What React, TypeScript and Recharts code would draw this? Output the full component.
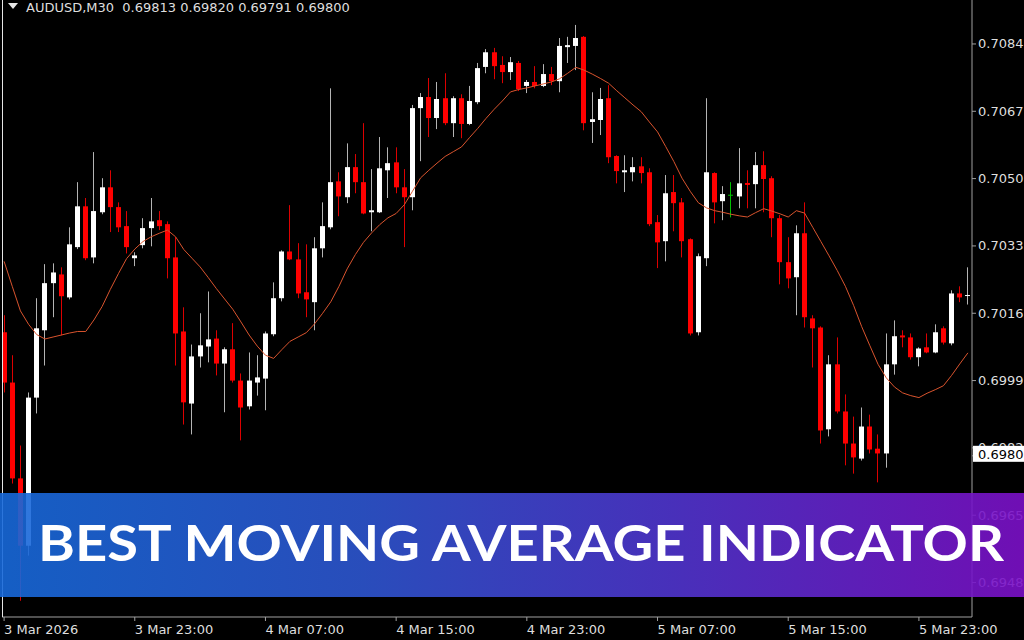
import React from 'react'
import { ComposedChart, Bar, Line, XAxis, YAxis } from 'recharts'

// AUDUSD M30 bars (oldest first)
const OPEN = [
  0.70112, 0.69985, 0.69743, 0.69573, 0.69947, 0.70117, 0.70236, 0.70258, 0.70200, 0.70327,
  0.70430, 0.70301, 0.70415, 0.70478, 0.70428, 0.70380, 0.70299, 0.70332, 0.70375, 0.70395,
  0.70385, 0.70301, 0.70114, 0.69932, 0.70051, 0.70076, 0.70096, 0.70033, 0.70069, 0.69990,
  0.69925, 0.69985, 0.69995, 0.70107, 0.70198, 0.70316, 0.70296, 0.70213, 0.70188, 0.70324,
  0.70377, 0.70493, 0.70453, 0.70529, 0.70491, 0.70415, 0.70415, 0.70521, 0.70541, 0.70478,
  0.70453, 0.70678, 0.70706, 0.70653, 0.70703, 0.70640, 0.70703, 0.70638, 0.70693, 0.70782,
  0.70819, 0.70787, 0.70769, 0.70792, 0.70734, 0.70744, 0.70734, 0.70764, 0.70746, 0.70832,
  0.70835, 0.70858, 0.70643, 0.70648, 0.70703, 0.70557, 0.70516, 0.70516, 0.70531, 0.70516,
  0.70390, 0.70342, 0.70466, 0.70440, 0.70347, 0.70112, 0.70299, 0.70514, 0.70443, 0.70458,
  0.70455, 0.70489, 0.70486, 0.70534, 0.70501, 0.70400, 0.70289, 0.70251, 0.70362, 0.70147,
  0.70124, 0.69867, 0.70031, 0.69912, 0.69831, 0.69793, 0.69874, 0.69818, 0.69806, 0.70031,
  0.70104, 0.70099, 0.70049, 0.70074, 0.70061, 0.70122, 0.70084, 0.70210, 0.70204,
]

const HIGH = [
  0.70155, 0.70054, 0.69826, 0.69960, 0.70198, 0.70284, 0.70286, 0.70276, 0.70377, 0.70491,
  0.70451, 0.70567, 0.70501, 0.70521, 0.70440, 0.70418, 0.70314, 0.70400, 0.70451, 0.70418,
  0.70392, 0.70352, 0.70175, 0.70081, 0.70160, 0.70215, 0.70117, 0.70074, 0.70135, 0.70008,
  0.70061, 0.70054, 0.70114, 0.70238, 0.70319, 0.70433, 0.70337, 0.70334, 0.70352, 0.70440,
  0.70728, 0.70516, 0.70589, 0.70562, 0.70640, 0.70524, 0.70605, 0.70579, 0.70579, 0.70524,
  0.70686, 0.70716, 0.70754, 0.70744, 0.70766, 0.70708, 0.70713, 0.70734, 0.70792, 0.70827,
  0.70830, 0.70809, 0.70807, 0.70797, 0.70749, 0.70784, 0.70789, 0.70782, 0.70855, 0.70858,
  0.70888, 0.70860, 0.70718, 0.70729, 0.70736, 0.70559, 0.70559, 0.70554, 0.70554, 0.70526,
  0.70408, 0.70509, 0.70509, 0.70451, 0.70349, 0.70311, 0.70703, 0.70516, 0.70481, 0.70491,
  0.70577, 0.70521, 0.70567, 0.70569, 0.70506, 0.70408, 0.70352, 0.70382, 0.70440, 0.70155,
  0.70127, 0.70054, 0.70099, 0.69955, 0.69899, 0.69922, 0.69904, 0.69854, 0.70109, 0.70142,
  0.70117, 0.70109, 0.70074, 0.70109, 0.70132, 0.70127, 0.70218, 0.70228, 0.70276,
]

const LOW = [
  0.69960, 0.69730, 0.69434, 0.69548, 0.69907, 0.70028, 0.70150, 0.70104, 0.70195, 0.70322,
  0.70294, 0.70286, 0.70410, 0.70365, 0.70365, 0.70311, 0.70279, 0.70324, 0.70329, 0.70370,
  0.70248, 0.70028, 0.69879, 0.69854, 0.70023, 0.70036, 0.70003, 0.69910, 0.69985, 0.69839,
  0.69917, 0.69952, 0.69915, 0.70102, 0.70190, 0.70294, 0.70198, 0.70150, 0.70117, 0.70301,
  0.70372, 0.70405, 0.70438, 0.70463, 0.70410, 0.70367, 0.70413, 0.70451, 0.70463, 0.70327,
  0.70420, 0.70544, 0.70605, 0.70625, 0.70635, 0.70605, 0.70602, 0.70635, 0.70688, 0.70766,
  0.70751, 0.70741, 0.70749, 0.70721, 0.70716, 0.70728, 0.70731, 0.70736, 0.70718, 0.70792,
  0.70774, 0.70622, 0.70590, 0.70610, 0.70539, 0.70488, 0.70466, 0.70493, 0.70488, 0.70380,
  0.70274, 0.70291, 0.70367, 0.70301, 0.70104, 0.70104, 0.70279, 0.70387, 0.70395, 0.70402,
  0.70425, 0.70425, 0.70425, 0.70415, 0.70352, 0.70233, 0.70223, 0.70155, 0.70124, 0.70023,
  0.69831, 0.69849, 0.69907, 0.69776, 0.69755, 0.69788, 0.69806, 0.69733, 0.69770, 0.70005,
  0.70074, 0.70043, 0.70026, 0.70059, 0.70059, 0.70081, 0.70079, 0.70188, 0.70182,
]

const CLOSE = [
  0.69985, 0.69743, 0.69573, 0.69947, 0.70122, 0.70236, 0.70263, 0.70203, 0.70334, 0.70430,
  0.70299, 0.70418, 0.70478, 0.70428, 0.70377, 0.70327, 0.70306, 0.70375, 0.70392, 0.70380,
  0.70299, 0.70109, 0.69935, 0.70051, 0.70079, 0.70094, 0.70033, 0.70069, 0.69990, 0.69922,
  0.69990, 0.69998, 0.70109, 0.70198, 0.70316, 0.70296, 0.70210, 0.70195, 0.70324, 0.70380,
  0.70491, 0.70455, 0.70529, 0.70491, 0.70412, 0.70420, 0.70526, 0.70539, 0.70478, 0.70453,
  0.70678, 0.70706, 0.70653, 0.70701, 0.70640, 0.70703, 0.70638, 0.70696, 0.70779, 0.70819,
  0.70784, 0.70769, 0.70794, 0.70726, 0.70744, 0.70734, 0.70764, 0.70746, 0.70835, 0.70837,
  0.70855, 0.70640, 0.70650, 0.70701, 0.70554, 0.70519, 0.70521, 0.70529, 0.70514, 0.70385,
  0.70339, 0.70463, 0.70438, 0.70342, 0.70109, 0.70304, 0.70516, 0.70440, 0.70461, 0.70458,
  0.70488, 0.70484, 0.70534, 0.70499, 0.70400, 0.70289, 0.70248, 0.70362, 0.70150, 0.70122,
  0.69864, 0.70031, 0.69912, 0.69831, 0.69796, 0.69874, 0.69816, 0.69806, 0.70031, 0.70102,
  0.70099, 0.70049, 0.70071, 0.70061, 0.70112, 0.70086, 0.70210, 0.70200, 0.70206,
]

// moving average line as drawn on the chart
const MA = [
  0.70291, 0.70228, 0.70166, 0.70132, 0.70106, 0.70095, 0.70100, 0.70105, 0.70110, 0.70114,
  0.70114, 0.70143, 0.70177, 0.70220, 0.70260, 0.70298, 0.70322, 0.70341, 0.70353, 0.70362,
  0.70370, 0.70353, 0.70321, 0.70299, 0.70277, 0.70250, 0.70222, 0.70196, 0.70170, 0.70138,
  0.70105, 0.70077, 0.70054, 0.70046, 0.70068, 0.70089, 0.70100, 0.70111, 0.70133, 0.70160,
  0.70189, 0.70228, 0.70272, 0.70308, 0.70339, 0.70363, 0.70384, 0.70401, 0.70412, 0.70434,
  0.70468, 0.70502, 0.70521, 0.70539, 0.70556, 0.70568, 0.70580, 0.70604, 0.70627, 0.70652,
  0.70675, 0.70696, 0.70719, 0.70725, 0.70729, 0.70734, 0.70739, 0.70744, 0.70752, 0.70766,
  0.70781, 0.70774, 0.70764, 0.70753, 0.70741, 0.70722, 0.70704, 0.70686, 0.70669, 0.70643,
  0.70618, 0.70581, 0.70543, 0.70501, 0.70468, 0.70439, 0.70426, 0.70419, 0.70415, 0.70410,
  0.70406, 0.70403, 0.70414, 0.70424, 0.70418, 0.70411, 0.70403, 0.70419, 0.70413, 0.70377,
  0.70341, 0.70305, 0.70268, 0.70228, 0.70180, 0.70126, 0.70078, 0.70031, 0.69997, 0.69974,
  0.69959, 0.69952, 0.69947, 0.69958, 0.69967, 0.69977, 0.70003, 0.70032, 0.70060,
]

const TIME_LABELS = [
  '3 Mar 2026', '3 Mar 23:00', '4 Mar 07:00', '4 Mar 15:00',
  '4 Mar 23:00', '5 Mar 07:00', '5 Mar 15:00', '5 Mar 23:00',
]
const BARS_PER_LABEL = 16

const PRICE_TICKS = [0.6948, 0.6965, 0.6982, 0.6999, 0.7016, 0.7033, 0.705, 0.7067, 0.7084]
const PRICE_MIN = 0.69393
const PRICE_MAX = 0.70951
const LAST_PRICE = 0.698

const HEADER = 'AUDUSD,M30\u00a0\u00a00.69813 0.69820 0.69791 0.69800'
const BANNER = 'BEST MOVING AVERAGE INDICATOR'

const W = 1024
const H = 640
const AXIS = '#a0a0a0'
const LABEL = '#dedede'

const data = OPEN.map((open, i) => ({
  i,
  open,
  high: HIGH[i],
  low: LOW[i],
  close: CLOSE[i],
  ma: MA[i],
}))

const timeTicks = TIME_LABELS.map((_, k) => k * BARS_PER_LABEL)

// one candle: the bar covers low..high, body placed inside it
const Candle = (props: any) => {
  const { x, y, width, height, payload } = props
  if (!payload) return null
  const { open, close, high, low } = payload
  const k = height / (high - low)
  const cx = Math.floor(x + width / 2)
  const top = y + (high - Math.max(open, close)) * k
  const bottom = y + (high - Math.min(open, close)) * k
  const up = close > open
  const doji = close === open
  const body = doji ? '#00c000' : up ? '#ffffff' : '#ff0000'
  const wick = doji ? '#00c000' : up ? '#b4b4b4' : '#dd0000'
  return (
    <g>
      <line x1={cx + 0.5} x2={cx + 0.5} y1={y} y2={y + height} stroke={wick} strokeWidth={1} />
      {doji ? (
        <line x1={cx - 2} x2={cx + 3} y1={top} y2={top} stroke={body} strokeWidth={1} />
      ) : (
        <rect x={cx - 2} y={top} width={5} height={Math.max(1, bottom - top)} fill={body} />
      )}
    </g>
  )
}

const PriceTick = (props: any) => {
  const { x, y, payload } = props
  const v = payload.value
  if (v === LAST_PRICE) {
    return (
      <g>
        <rect x={x - 5} y={y - 10} width={56} height={16} fill="#ffffff" />
        <text x={x} y={y + 3} fill="#000" fontSize={13} textAnchor="start">
          {v.toFixed(4)}
        </text>
      </g>
    )
  }
  return (
    <text x={x} y={y + 4.5} fill={LABEL} fontSize={13} textAnchor="start">
      {v.toFixed(4)}
    </text>
  )
}

const TimeTick = (props: any) => {
  const { x, y, payload } = props
  const label = TIME_LABELS[Math.round(payload.value / BARS_PER_LABEL)]
  return (
    <text x={x} y={y + 11} fill={LABEL} fontSize={13} textAnchor="start">
      {label}
    </text>
  )
}

export default function App() {
  return (
    <div
      style={{
        position: 'absolute',
        left: 0,
        top: 0,
        width: W,
        height: H,
        background: '#000',
        fontFamily: '"DejaVu Sans", sans-serif',
        overflow: 'hidden',
      }}
    >
      <ComposedChart
        width={W}
        height={H}
        data={data}
        margin={{ top: 0, right: 0, bottom: 0, left: 0 }}
        barCategoryGap={0}
        barGap={0}
      >
        <XAxis
          dataKey="i"
          ticks={timeTicks}
          interval={0}
          height={23}
          axisLine={{ stroke: AXIS }}
          tickLine={{ stroke: AXIS }}
          tickSize={4}
          tick={<TimeTick />}
        />
        <YAxis
          orientation="right"
          width={52}
          domain={[PRICE_MIN, PRICE_MAX]}
          allowDataOverflow
          ticks={[...PRICE_TICKS, LAST_PRICE]}
          interval={0}
          axisLine={{ stroke: AXIS }}
          tickLine={{ stroke: AXIS }}
          tickSize={4}
          tick={<PriceTick />}
        />
        <Bar
          dataKey={(d: any) => [d.low, d.high]}
          shape={<Candle />}
          isAnimationActive={false}
        />
        <Line
          dataKey="ma"
          type="linear"
          stroke="#d9542e"
          strokeWidth={1}
          dot={false}
          activeDot={false}
          isAnimationActive={false}
        />
      </ComposedChart>

      <svg
        width={W}
        height={H}
        style={{ position: 'absolute', left: 0, top: 0, pointerEvents: 'none' }}
      >
        <defs>
          <linearGradient id="banner" x1="0" y1="0" x2="1" y2="0">
            <stop offset="0%" stopColor="#1769da" />
            <stop offset="35%" stopColor="#2d56d0" />
            <stop offset="65%" stopColor="#4f36cf" />
            <stop offset="100%" stopColor="#7c10c8" />
          </linearGradient>
        </defs>
        <rect x={0} y={0} width={2} height={H} fill="#000" />
        <line x1={2.5} x2={2.5} y1={0} y2={617} stroke="#e6e6e6" strokeWidth={1} />
        <polygon points="8,3 18,3 13,9" fill="#e6e6e6" />
        <text x={26} y={12} fill={LABEL} fontSize={13} fontFamily='"DejaVu Sans", sans-serif'>
          {HEADER}
        </text>
        <rect x={0} y={493} width={W} height={104} fill="url(#banner)" opacity={0.9} />
        <text
          x={38}
          y={561}
          textLength={966}
          lengthAdjust="spacingAndGlyphs"
          fill="#ffffff"
          fontSize={50}
          fontWeight={700}
          fontFamily='Lato, "Open Sans", sans-serif'
        >
          {BANNER}
        </text>
      </svg>
    </div>
  )
}
